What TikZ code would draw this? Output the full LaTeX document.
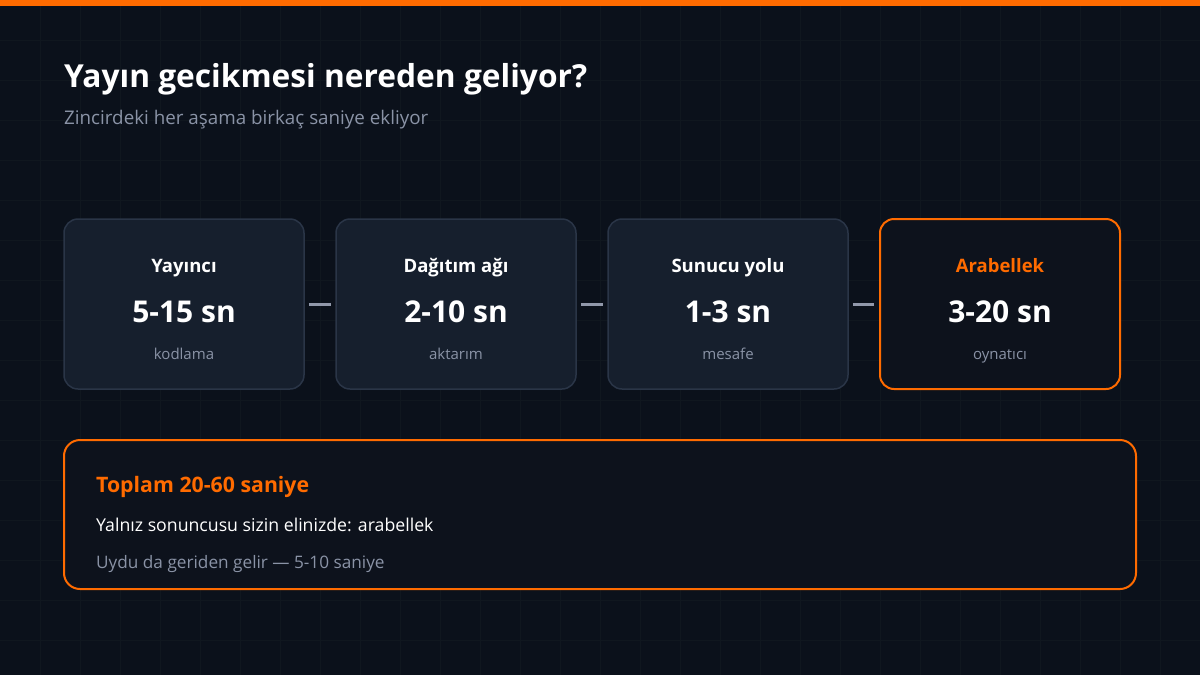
\documentclass[tikz,border=0pt]{standalone}
\usepackage{fontspec}
\setmainfont{Open Sans}
\definecolor{bgc}{HTML}{0B111B}
\definecolor{gridc}{HTML}{10171F}
\definecolor{boxfill}{HTML}{161F2D}
\definecolor{boxline}{HTML}{2A3547}
\definecolor{orng}{HTML}{FF6B00}
\definecolor{graytxt}{HTML}{8A93A6}
\definecolor{conncol}{HTML}{9198AA}
\definecolor{darkfill}{HTML}{0D121C}
\tikzset{
  stage/.style={draw=boxline, line width=1.5pt, fill=boxfill, rounded corners=14pt,
    minimum width=240pt, minimum height=170pt, inner sep=0pt},
  hot/.style={draw=orng, line width=2pt, fill=darkfill},
  stagetitle/.style={text=white, font=\fontsize{18.5pt}{22pt}\selectfont\bfseries, inner sep=0pt},
  stageval/.style={text=white, font=\fontsize{30pt}{36pt}\selectfont\bfseries, inner sep=0pt},
  stagesub/.style={text=graytxt, font=\fontsize{15pt}{18pt}\selectfont, inner sep=0pt},
  conn/.style={draw=conncol, line width=3pt},
}
\begin{document}
\begin{tikzpicture}[x=1pt,y=-1pt]
\useasboundingbox (0,0) rectangle (1200,675);
\fill[bgc] (0,0) rectangle (1200,675);
\foreach \gx in {40,80,...,1160} \draw[gridc, line width=0.6pt] (\gx,0) -- (\gx,675);
\foreach \gy in {40,80,...,640} \draw[gridc, line width=0.6pt] (0,\gy) -- (1200,\gy);
\fill[orng] (0,0) rectangle (1200,6);

\node[anchor=base west, inner sep=0pt, text=white, font=\fontsize{31.7pt}{36pt}\selectfont\bfseries] (title) at (64,87) {Yayın gecikmesi nereden geliyor?};
\node[anchor=base west, inner sep=0pt, text=graytxt, font=\fontsize{18.8pt}{22pt}\selectfont] (subtitle) at (64,124) {Zincirdeki her aşama birkaç saniye ekliyor};

\node[stage] (b1) at (184,304) {};
\node[stage] (b2) at (456,304) {};
\node[stage] (b3) at (728,304) {};
\node[stage, hot] (b4) at (1000,304) {};

\foreach \b/\t/\v/\s in {b1/Yayıncı/5-15 sn/kodlama, b2/Dağıtım ağı/2-10 sn/aktarım, b3/Sunucu yolu/1-3 sn/mesafe}{
  \node[stagetitle, anchor=base] (\b t) at ([yshift=32pt]\b.center) {\t};
  \node[stageval, anchor=base] (\b v) at ([yshift=-18pt]\b.center) {\v};
  \node[stagesub, anchor=base] (\b s) at ([yshift=-55pt]\b.center) {\s};
}
\node[stagetitle, anchor=base, text=orng] (b4t) at ([yshift=32pt]b4.center) {Arabellek};
\node[stageval, anchor=base] (b4v) at ([yshift=-18pt]b4.center) {3-20 sn};
\node[stagesub, anchor=base] (b4s) at ([yshift=-55pt]b4.center) {oynatıcı};

\draw[conn] ([xshift=4pt]b1.east) -- ([xshift=-4pt]b2.west);
\draw[conn] ([xshift=4pt]b2.east) -- ([xshift=-4pt]b3.west);
\draw[conn] ([xshift=4pt]b3.east) -- ([xshift=-5pt]b4.west);

\node[draw=orng, line width=2pt, fill=darkfill, rounded corners=16pt, minimum width=1072pt, minimum height=149pt, inner sep=0pt] (total) at (600,514.5) {};
\node[anchor=base west, inner sep=0pt, text=orng, font=\fontsize{21.3pt}{25pt}\selectfont\bfseries] (tt) at (96,492) {Toplam 20-60 saniye};
\node[anchor=base west, inner sep=0pt, text=white, font=\fontsize{17.7pt}{21pt}\selectfont] (tl) at (96,531) {Yalnız sonuncusu sizin elinizde: arabellek};
\node[anchor=base west, inner sep=0pt, text=graytxt, font=\fontsize{17.2pt}{20pt}\selectfont] (tn) at (96,568) {Uydu da geriden gelir — 5-10 saniye};
\end{tikzpicture}
\end{document}
